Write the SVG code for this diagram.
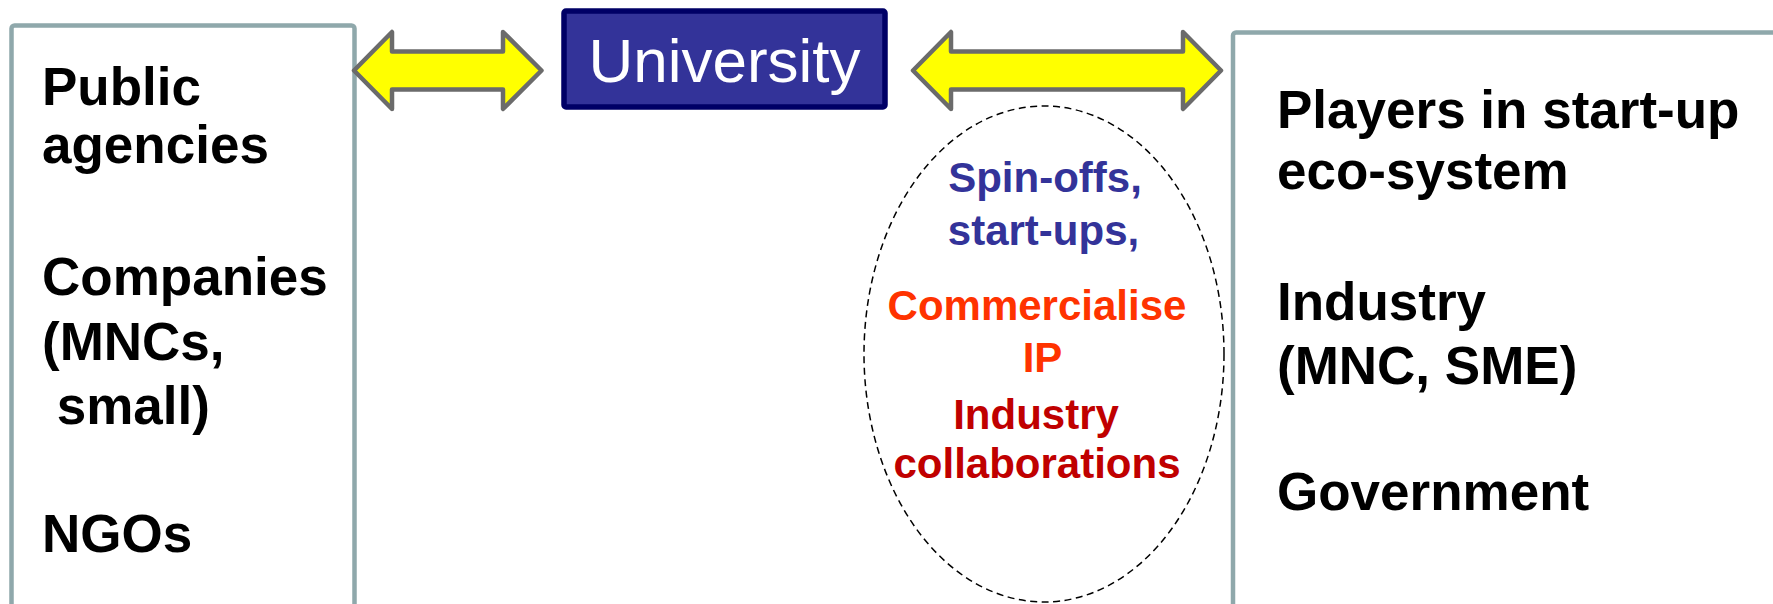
<svg xmlns="http://www.w3.org/2000/svg" width="1773" height="604" viewBox="0 0 1773 604">
<style>
.panel{fill:#ffffff;stroke:#8FA8AB;stroke-width:4.5}
.big{font-family:"Liberation Sans",Arial,sans-serif;font-weight:bold;font-size:53px;fill:#000000}
.oval{font-family:"Liberation Sans",Arial,sans-serif;font-weight:bold;font-size:42px;text-anchor:middle}
.arrow{fill:#FFFF00;stroke:#6B6B6B;stroke-width:4.5;stroke-linejoin:round}
</style>
<rect width="1773" height="604" fill="#ffffff"/>
<g id="left-box">
<rect class="panel" x="11.5" y="25.5" width="343" height="620" rx="3"/>
<text class="big" x="42" y="105">Public</text>
<text class="big" x="42" y="163">agencies</text>
<text class="big" x="42" y="295">Companies</text>
<text class="big" x="42" y="360">(MNCs,</text>
<text class="big" x="42" y="424" xml:space="preserve"> small)</text>
<text class="big" x="42" y="552">NGOs</text>
</g>
<g id="right-box">
<rect class="panel" x="1233" y="32.5" width="600" height="620" rx="3"/>
<text class="big" x="1277" y="127.5">Players in start-up</text>
<text class="big" x="1277" y="189">eco-system</text>
<text class="big" x="1277" y="320">Industry</text>
<text class="big" x="1277" y="384">(MNC, SME)</text>
<text class="big" x="1277" y="510">Government</text>
</g>
<g id="university">
<rect x="564" y="11" width="321" height="96" rx="2" fill="#333399" stroke="#000066" stroke-width="5.5"/>
<text x="724.5" y="82" font-family="'Liberation Sans',Arial,sans-serif" font-size="62" fill="#ffffff" text-anchor="middle">University</text>
</g>
<g id="outcomes">
<ellipse cx="1044" cy="354" rx="180" ry="248" fill="none" stroke="#000000" stroke-width="1.5" stroke-dasharray="7 4.5"/>
<text class="oval" x="1045" y="192" fill="#333399">Spin-offs,</text>
<text class="oval" x="1043.5" y="245" fill="#333399">start-ups,</text>
<text class="oval" x="1037" y="320" fill="#FF3300">Commercialise</text>
<text class="oval" x="1042.5" y="372" fill="#FF3300">IP</text>
<text class="oval" x="1036" y="429" fill="#C00000">Industry</text>
<text class="oval" x="1037" y="478" fill="#C00000">collaborations</text>
</g>
<g id="connectors">
<path class="arrow" d="M354,70.5 L392,32 L392,51.5 L503,51.5 L503,32 L541.5,70.5 L503,109 L503,89.5 L392,89.5 L392,109 Z"/>
<path class="arrow" d="M913,70.5 L951,32 L951,51.5 L1183,51.5 L1183,32 L1221,70.5 L1183,109 L1183,89.5 L951,89.5 L951,109 Z"/>
</g>
</svg>
